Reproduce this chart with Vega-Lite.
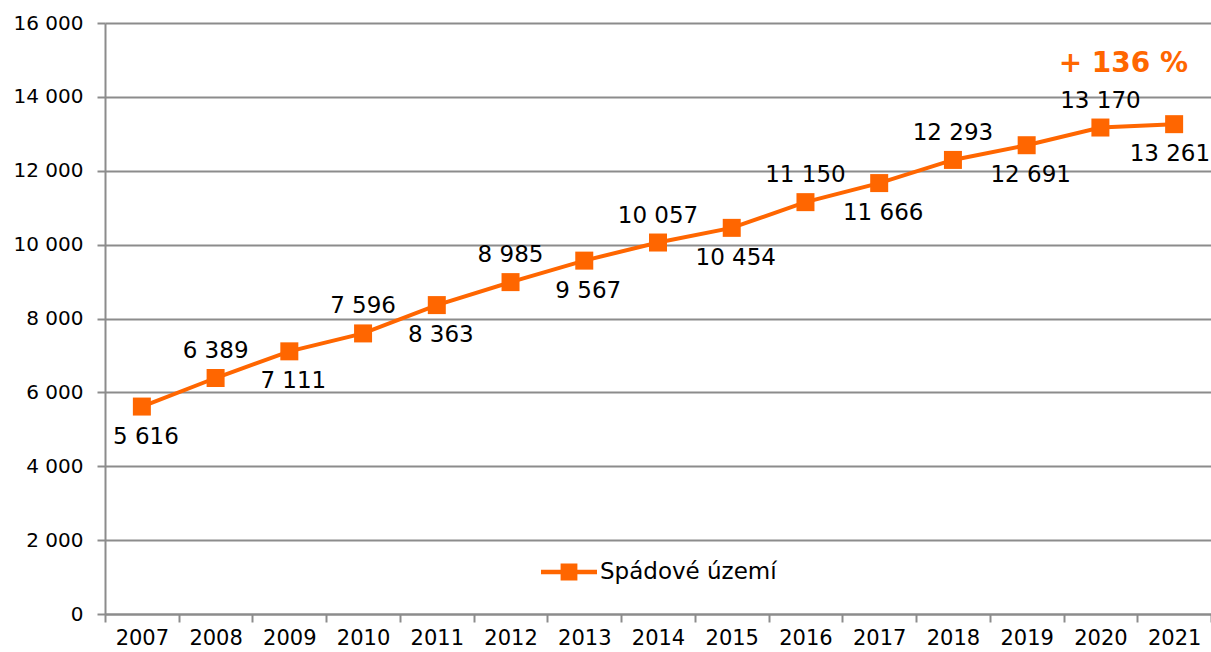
{
  "$schema": "https://vega.github.io/schema/vega-lite/v6.json",
  "width": 1106,
  "height": 591,
  "autosize": {"type": "none"},
  "padding": {"left": 105, "top": 23, "right": 0, "bottom": 38},
  "background": "white",
  "config": {
    "locale": {"number": {"decimal": ",", "thousands": " ", "grouping": [3], "currency": ["", " Kč"]}},
    "view": {"stroke": null},
    "font": "DejaVu Sans"
  },
  "data": {
    "values": [
      {"year": "2007", "value": 5616, "series": "Spádové území"},
      {"year": "2008", "value": 6389, "series": "Spádové území"},
      {"year": "2009", "value": 7111, "series": "Spádové území"},
      {"year": "2010", "value": 7596, "series": "Spádové území"},
      {"year": "2011", "value": 8363, "series": "Spádové území"},
      {"year": "2012", "value": 8985, "series": "Spádové území"},
      {"year": "2013", "value": 9567, "series": "Spádové území"},
      {"year": "2014", "value": 10057, "series": "Spádové území"},
      {"year": "2015", "value": 10454, "series": "Spádové území"},
      {"year": "2016", "value": 11150, "series": "Spádové území"},
      {"year": "2017", "value": 11666, "series": "Spádové území"},
      {"year": "2018", "value": 12293, "series": "Spádové území"},
      {"year": "2019", "value": 12691, "series": "Spádové území"},
      {"year": "2020", "value": 13170, "series": "Spádové území"},
      {"year": "2021", "value": 13261, "series": "Spádové území"}
    ]
  },
  "encoding": {
    "x": {
      "field": "year", "type": "ordinal",
      "scale": {"type": "band", "paddingInner": 0, "paddingOuter": 0},
      "axis": {
        "title": null, "labelAngle": 0, "labelFontSize": 21, "labelColor": "black",
        "labelFont": "DejaVu Sans", "domainColor": "#8c8c8c", "domainWidth": 2,
        "tickColor": "#8c8c8c", "tickWidth": 2, "tickSize": 8, "tickBand": "extent",
        "labelPadding": 5, "grid": false
      }
    },
    "y": {
      "field": "value", "type": "quantitative",
      "scale": {"domain": [0, 16000], "nice": false, "zero": true},
      "axis": {
        "title": null, "values": [0, 2000, 4000, 6000, 8000, 10000, 12000, 14000, 16000],
        "format": ",d", "labelFontSize": 20, "labelColor": "black", "labelFont": "DejaVu Sans",
        "domainColor": "#8c8c8c", "domainWidth": 2, "tickColor": "#8c8c8c", "tickWidth": 2,
        "tickSize": 8, "labelPadding": 14, "grid": true, "gridColor": "#8c8c8c", "gridWidth": 2
      }
    }
  },
  "layer": [
    {
      "mark": {"type": "line", "color": "#FF6600", "strokeWidth": 4}
    },
    {
      "mark": {"type": "point", "shape": "square", "filled": true, "size": 324, "opacity": 1},
      "encoding": {
        "color": {
          "field": "series", "type": "nominal",
          "scale": {"range": ["#FF6600"]},
          "legend": {
            "orient": "none", "legendX": 436, "legendY": 521, "title": null,
            "symbolType": "M-1,-0.08L1,-0.08L1,0.08L-1,0.08Z M-0.3,-0.3L0.3,-0.3L0.3,0.3L-0.3,0.3Z",
            "symbolSize": 3136, "symbolStrokeWidth": 0, "symbolOpacity": 1, "labelLimit": 0,
            "labelFontSize": 23, "labelFont": "DejaVu Sans", "labelColor": "black", "labelOffset": 3
          }
        }
      }
    },
    {
      "transform": [{"filter": "toNumber(datum.year) % 2 == 0"}],
      "mark": {"type": "text", "dy": -27, "fontSize": 23, "font": "DejaVu Sans", "color": "black"},
      "encoding": {"text": {"field": "value", "type": "quantitative", "format": ",d"}}
    },
    {
      "transform": [{"filter": "toNumber(datum.year) % 2 == 1 && datum.year != '2021'"}],
      "mark": {"type": "text", "dy": 30, "dx": 4, "fontSize": 23, "font": "DejaVu Sans", "color": "black"},
      "encoding": {"text": {"field": "value", "type": "quantitative", "format": ",d"}}
    },
    {
      "transform": [{"filter": "datum.year == '2021'"}],
      "mark": {"type": "text", "align": "right", "dy": 30, "dx": 36, "fontSize": 23, "font": "DejaVu Sans", "color": "black"},
      "encoding": {"text": {"field": "value", "type": "quantitative", "format": ",d"}}
    },
    {
      "data": {"values": [{"year": "2021", "value": 14900, "label": "+ 136 %"}]},
      "mark": {"type": "text", "align": "right", "baseline": "middle", "dx": 14, "fontSize": 28, "fontWeight": "bold", "font": "DejaVu Sans", "color": "#FF6600"},
      "encoding": {"text": {"field": "label"}}
    }
  ]
}
